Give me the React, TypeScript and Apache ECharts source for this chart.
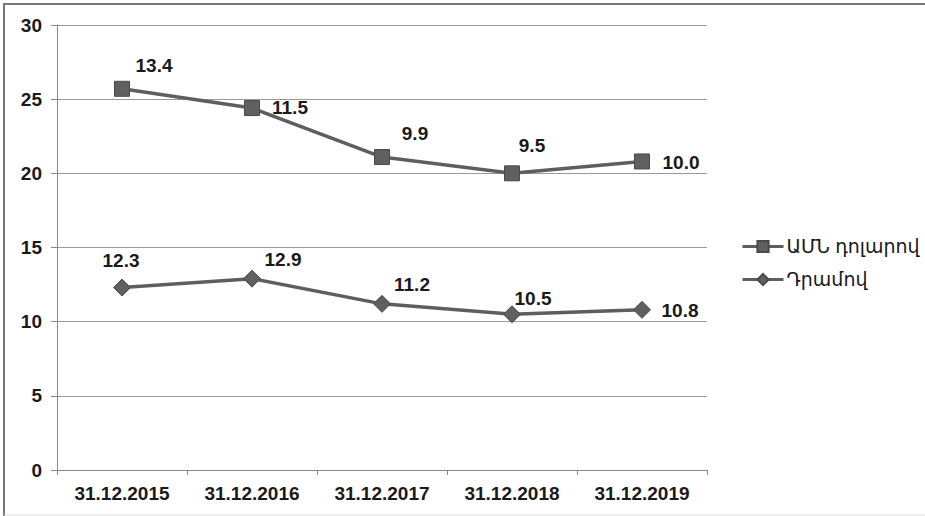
import React, { useEffect, useRef } from "react";
import * as echarts from "echarts";

const categories = ["31.12.2015", "31.12.2016", "31.12.2017", "31.12.2018", "31.12.2019"];
const amdValues = [12.3, 12.9, 11.2, 10.5, 10.8];
const usdValues = [13.4, 11.5, 9.9, 9.5, 10.0];
const seriesNames = ["ԱՄՆ դոլարով", "Դրամով"];
const yTicks = { min: 0, max: 30, interval: 5 };

const usdLabelOffsets = [[32, -23], [38, -1], [33, -24], [20, -28], [39, 1]];
const amdLabelOffsets = [[-1, -27], [31, -19], [30, -19], [21, -16], [38, 1]];

const FONT = "'Liberation Sans', Arial, 'DejaVu Sans', sans-serif";
const TEXT = "#1a1a1a";
const LINE = "#5e5e5e";

export default function App() {
  const ref = useRef<HTMLDivElement>(null);
  useEffect(() => {
    if (!ref.current) return;
    const chart = echarts.init(ref.current, undefined, { renderer: "svg" });
    const labelStyle = {
      show: true,
      position: "inside" as const,
      fontFamily: FONT,
      fontSize: 19,
      fontWeight: "bold" as const,
      color: TEXT,
      formatter: (p: any) => Number(p.data.raw).toFixed(1),
    };
    chart.setOption({
      animation: false,
      backgroundColor: "#ffffff",
      textStyle: { fontFamily: FONT },
      graphic: [
        { type: "line", shape: { x1: 3, y1: 4, x2: 925, y2: 4 }, style: { stroke: "#777", lineWidth: 2 } },
        { type: "line", shape: { x1: 4, y1: 3, x2: 4, y2: 516 }, style: { stroke: "#777", lineWidth: 2 } },
        { type: "line", shape: { x1: 4, y1: 515, x2: 925, y2: 515 }, style: { stroke: "#ddd", lineWidth: 1 } },
      ],
      grid: { left: 57, top: 25, width: 650, height: 445 },
      legend: {
        orient: "vertical",
        left: 736,
        top: 232,
        itemWidth: 41,
        itemHeight: 14,
        itemGap: 14,
        data: seriesNames,
        lineStyle: { width: 3 },
        textStyle: { fontFamily: FONT, fontSize: 19, color: TEXT, fontWeight: "normal", padding: [0, 0, 0, -2] },
      },
      xAxis: {
        type: "category",
        data: categories,
        boundaryGap: true,
        axisLine: { lineStyle: { color: "#888", width: 1 } },
        axisTick: { show: true, length: 5, lineStyle: { color: "#888" } },
        axisLabel: { fontFamily: FONT, fontSize: 19, fontWeight: "bold", color: TEXT, margin: 14 },
        splitLine: { show: false },
      },
      yAxis: {
        type: "value",
        min: yTicks.min,
        max: yTicks.max,
        interval: yTicks.interval,
        axisLine: { show: true, lineStyle: { color: "#888", width: 1 } },
        axisTick: { show: true, length: 6, lineStyle: { color: "#888" } },
        axisLabel: { fontFamily: FONT, fontSize: 19, fontWeight: "bold", color: TEXT, margin: 15 },
        splitLine: { show: true, lineStyle: { color: "#999", width: 1 } },
      },
      series: [
        {
          name: seriesNames[1],
          type: "line",
          stack: "total",
          symbol: "diamond",
          symbolSize: 17,
          data: amdValues.map((v, i) => ({
            value: v,
            raw: v,
            label: { ...labelStyle, offset: amdLabelOffsets[i] },
          })),
          lineStyle: { color: LINE, width: 3.5 },
          itemStyle: { color: "#606060", borderColor: "#4a4a4a", borderWidth: 1 },
          z: 3,
        },
        {
          name: seriesNames[0],
          type: "line",
          stack: "total",
          symbol: "rect",
          symbolSize: 15,
          data: usdValues.map((v, i) => ({
            value: v,
            raw: v,
            label: { ...labelStyle, offset: usdLabelOffsets[i] },
          })),
          lineStyle: { color: LINE, width: 3.5 },
          itemStyle: { color: "#606060", borderColor: "#4a4a4a", borderWidth: 1 },
          z: 3,
        },
      ],
    });
    return () => chart.dispose();
  }, []);
  return (
    <div
      ref={ref}
      style={{ position: "fixed", left: 0, top: 0, width: 925, height: 516, background: "#fff" }}
    />
  );
}
